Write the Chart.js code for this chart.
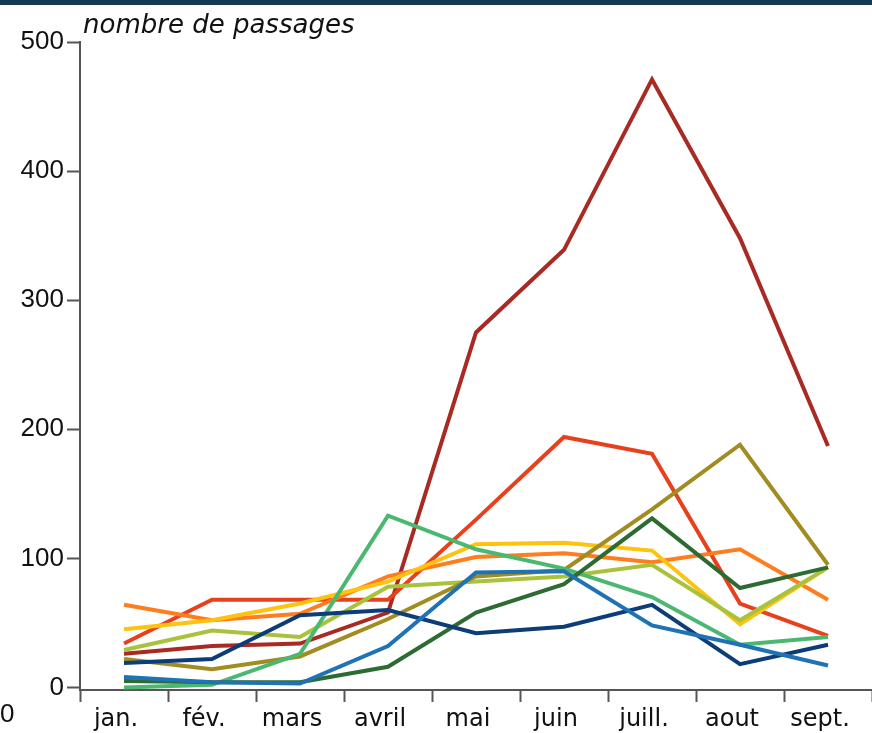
<!DOCTYPE html>
<html lang="fr">
<head>
<meta charset="utf-8">
<title>nombre de passages</title>
<script src="https://cdn.jsdelivr.net/npm/chart.js@4"></script>
<style>
  html, body { margin: 0; padding: 0; background: #fff; }
  #wrap { width: 872px; height: 733px; position: relative; }
</style>
</head>
<body>
<div id="wrap"><canvas id="passagesChart" width="872" height="733"></canvas></div>
<script>
// --- Données ---
const mois = ['jan.', 'fév.', 'mars', 'avril', 'mai', 'juin', 'juill.', 'aout', 'sept.'];
const yTicks = [0, 100, 200, 300, 400, 500];

const serieBleu       = [8, 4, 3, 32, 89, 90, 48, 33, 17];
const serieMarine     = [19, 22, 56, 60, 42, 47, 64, 18, 33];
const serieVertFonce  = [5, 4, 4, 16, 58, 80, 131, 77, 93];
const serieVert       = [0, 2, 26, 133, 107, 92, 70, 33, 39];
const serieOlive      = [22, 14, 24, 53, 86, 91, 138, 188, 95];
const serieVertJaune  = [29, 44, 39, 78, 82, 86, 95, 52, 93];
const serieJaune      = [45, 52, 65, 82, 111, 112, 106, 49, 93];
const serieOrange     = [64, 52, 57, 86, 101, 104, 97, 107, 68];
const serieRouge      = [34, 68, 68, 68, 130, 194, 181, 65, 40];
const serieRougeFonce = [26, 32, 34, 58, 275, 339, 471, 348, 187];

const FONT_NUM = '"Liberation Sans", Arial, sans-serif';
const FONT_TXT = '"DejaVu Sans", Verdana, sans-serif';

function ligne(label, data, color) {
    return {
        label: label,
        data: data,
        borderColor: color,
        backgroundColor: color,
        borderWidth: 4,
        pointRadius: 0,
        tension: 0,
        fill: false
    };
}

// --- Décor : bandeau du haut, titre de l'axe, "0" isolé ---
const decor = {
    id: 'decor',
    beforeDraw(chart) {
        const ctx = chart.ctx;
        ctx.save();
        ctx.fillStyle = '#fff';
        ctx.fillRect(0, 0, chart.width, chart.height);
        ctx.restore();
    },
    afterDraw(chart) {
        const ctx = chart.ctx;
        ctx.save();
        ctx.fillStyle = '#123a55';
        ctx.fillRect(0, 0, chart.width, 5);
        ctx.fillStyle = '#111';
        ctx.font = 'italic 26px ' + FONT_TXT;
        ctx.textBaseline = 'alphabetic';
        ctx.textAlign = 'left';
        ctx.fillText('nombre de passages', 83, 33);
        ctx.font = '26px ' + FONT_NUM;
        ctx.textBaseline = 'middle';
        ctx.fillText('0', 0, 715);
        ctx.restore();
    }
};

new Chart(document.getElementById('passagesChart'), {
    type: 'line',
    data: {
        labels: mois,
        datasets: [
            ligne('série 1', serieBleu, '#1f72b3'),
            ligne('série 2', serieMarine, '#0c3d78'),
            ligne('série 3', serieVertFonce, '#2e6b33'),
            ligne('série 4', serieVert, '#4bb872'),
            ligne('série 5', serieOlive, '#a08c20'),
            ligne('série 6', serieVertJaune, '#a9c23c'),
            ligne('série 7', serieJaune, '#ffc20f'),
            ligne('série 8', serieOrange, '#ff7d1f'),
            ligne('série 9', serieRouge, '#e8401c'),
            ligne('série 10', serieRougeFonce, '#a82a22')
        ]
    },
    options: {
        responsive: false,
        animation: false,
        layout: { padding: { top: 42, right: -4, bottom: 0, left: 0 } },
        plugins: {
            legend: { display: false },
            tooltip: { enabled: false }
        },
        scales: {
            x: {
                offset: true,
                afterFit(axis) { axis.height = 43; },
                grid: {
                    offset: true,
                    drawOnChartArea: false,
                    tickLength: 12,
                    tickColor: '#555',
                    tickWidth: 2
                },
                border: { display: true, color: '#555', width: 2 },
                ticks: {
                    color: '#111',
                    padding: 3,
                    labelOffset: -8,
                    maxRotation: 0,
                    autoSkip: false,
                    font: { family: FONT_TXT, size: 24 }
                }
            },
            y: {
                min: -2,
                max: 500,
                afterFit(axis) { axis.width = 80; },
                afterBuildTicks(axis) { axis.ticks = yTicks.map(v => ({ value: v })); },
                grid: {
                    drawOnChartArea: false,
                    tickLength: 13,
                    tickColor: '#555',
                    tickWidth: 2
                },
                border: { display: true, color: '#555', width: 2 },
                ticks: {
                    color: '#111',
                    padding: 3,
                    font: { family: FONT_NUM, size: 26 }
                }
            }
        }
    },
    plugins: [decor]
});
</script>
</body>
</html>
